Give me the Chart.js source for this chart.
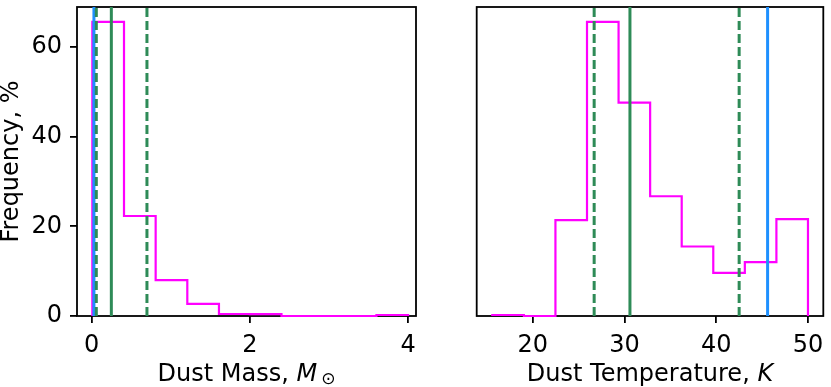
<!DOCTYPE html>
<html>
<head>
<meta charset="utf-8">
<script src="https://cdn.jsdelivr.net/npm/chart.js@4.4.1/dist/chart.umd.min.js"></script>
<style>
  html, body { margin: 0; padding: 0; background: #fff; }
  #wrap { position: relative; width: 831px; height: 387px; }
  .panel { position: absolute; top: 0; height: 387px; }
  #left { left: 0; width: 420px; }
  #right { left: 420px; width: 411px; }
</style>
</head>
<body>
<div id="wrap">
  <div class="panel" id="left"><canvas id="massChart"></canvas></div>
  <div class="panel" id="right"><canvas id="tempChart"></canvas></div>
</div>
<script>
// ================= DATA =================
const massEdges = [0.01, 0.41, 0.81, 1.21, 1.61, 2.0, 2.4, 2.8, 3.2, 3.6, 4.0];
const massFreq = [65.6, 22.3, 8.0, 2.7, 0.45, 0.4, 0, 0, 0, 0.22];
const massTicks = [0, 2, 4];
const massBest = 0.03;            // blue line
const massMedian = 0.25;          // green solid
const massBounds = [0.06, 0.7];   // green dashed

const tempEdges = [15.6, 19.04, 22.48, 25.92, 29.36, 32.8, 36.24, 39.68, 43.12, 46.56, 50.0];
const tempFreq = [0.22, 0, 21.4, 65.6, 47.6, 26.7, 15.5, 9.6, 12.0, 21.6];
const tempTicks = [20, 30, 40, 50];
const tempBest = 45.6;
const tempMedian = 30.6;
const tempBounds = [26.7, 42.5];

const freqTicks = [0, 20, 40, 60];
const freqMax = 68.9;

// ================= STYLE =================
const PINK = "#ff00ff";
const GREEN = "#2e8b57";
const BLUE = "#1e90ff";
const FONT = "'DejaVu Sans', sans-serif";
const FONT_SIZE = 24;

Chart.defaults.font.family = FONT;
Chart.defaults.font.size = FONT_SIZE;
Chart.defaults.color = "#000";

// ================= HELPERS =================
function stepPoints(edges, freq) {
  const pts = [{ x: edges[0], y: 0 }];
  freq.forEach((f, i) => pts.push({ x: edges[i], y: f }));
  pts.push({ x: edges[edges.length - 1], y: 0 });
  return pts;
}

function vline(x, color, dashed) {
  return {
    data: [{ x: x, y: 0 }, { x: x, y: freqMax }],
    borderColor: color,
    borderWidth: 3,
    borderDash: dashed ? [9, 4] : [],
    pointRadius: 0,
    clip: false,
    order: 1,
  };
}

function histDataset(edges, freq) {
  return {
    data: stepPoints(edges, freq),
    borderColor: PINK,
    borderWidth: 2.2,
    stepped: true,
    pointRadius: 0,
    clip: false,
    order: 10,
  };
}

const tickGrid = {
  drawOnChartArea: false,
  drawTicks: true,
  tickLength: 7,
  tickWidth: 1.8,
  tickColor: "#000",
  lineWidth: 1.8,
  color: "#000",
};

function noPadding(scale) {
  scale.paddingTop = 0;
  scale.paddingBottom = 0;
  scale.paddingLeft = 0;
  scale.paddingRight = 0;
}

const framePlugin = {
  id: "frame",
  beforeDatasetsDraw(chart) {
    const { ctx, chartArea: a } = chart;
    ctx.save();
    ctx.strokeStyle = "#000";
    ctx.lineWidth = 1.8;
    ctx.strokeRect(a.left, a.top, a.right - a.left, a.bottom - a.top);
    ctx.restore();
  },
};

function titlePlugin(xParts, yText) {
  return {
    id: "axisTitles",
    afterDraw(chart) {
      const { ctx, chartArea: a } = chart;
      ctx.save();
      ctx.fillStyle = "#000";
      ctx.textBaseline = "alphabetic";
      ctx.textAlign = "left";

      let total = 0;
      xParts.forEach((p) => {
        ctx.font = p.font;
        total += ctx.measureText(p.text).width + (p.gap || 0);
      });
      let x = (a.left + a.right) / 2 - total / 2;
      xParts.forEach((p) => {
        ctx.font = p.font;
        x += p.gap || 0;
        ctx.fillText(p.text, x, 381 + (p.dy || 0));
        x += ctx.measureText(p.text).width;
      });

      if (yText) {
        ctx.translate(18, (a.top + a.bottom) / 2);
        ctx.rotate(-Math.PI / 2);
        ctx.textAlign = "center";
        ctx.font = `${FONT_SIZE}px ${FONT}`;
        ctx.fillText(yText, 0, 0);
      }
      ctx.restore();
    },
  };
}

function makeChart(id, opts) {
  return new Chart(document.getElementById(id), {
    type: "line",
    data: {
      datasets: [
        histDataset(opts.edges, opts.freq),
        vline(opts.bounds[0], GREEN, true),
        vline(opts.bounds[1], GREEN, true),
        vline(opts.median, GREEN, false),
        vline(opts.best, BLUE, false),
      ],
    },
    options: {
      responsive: true,
      maintainAspectRatio: false,
      animation: false,
      layout: { padding: opts.padding },
      plugins: { legend: { display: false }, tooltip: { enabled: false } },
      scales: {
        x: {
          type: "linear",
          min: opts.xMin,
          max: opts.xMax,
          grid: tickGrid,
          border: { display: false },
          ticks: { autoSkip: false, maxRotation: 0, padding: 8 },
          afterBuildTicks: (axis) => {
            axis.ticks = opts.xTicks.map((v) => ({ value: v }));
          },
          afterFit: (scale) => {
            scale.height = 71;
            noPadding(scale);
          },
        },
        y: {
          type: "linear",
          display: opts.showY,
          min: 0,
          max: freqMax,
          grid: tickGrid,
          border: { display: false },
          ticks: { padding: 8 },
          afterBuildTicks: (axis) => {
            axis.ticks = freqTicks.map((v) => ({ value: v }));
          },
          afterFit: (scale) => {
            scale.width = opts.yWidth;
            noPadding(scale);
          },
        },
      },
    },
    plugins: [framePlugin, titlePlugin(opts.xTitle, opts.yTitle)],
  });
}

// ================= CHARTS =================
makeChart("massChart", {
  edges: massEdges,
  freq: massFreq,
  best: massBest,
  median: massMedian,
  bounds: massBounds,
  xMin: -0.184,
  xMax: 4.1,
  xTicks: massTicks,
  showY: true,
  yWidth: 77,
  padding: { top: 7, right: 4, left: 0, bottom: 0 },
  xTitle: [
    { text: "Dust Mass, ", font: `${FONT_SIZE}px ${FONT}` },
    { text: "M", font: `italic ${FONT_SIZE}px ${FONT}` },
    { text: "\u2299", font: `17px ${FONT}`, dy: 3, gap: 4 },
  ],
  yTitle: "Frequency, %",
});

makeChart("tempChart", {
  edges: tempEdges,
  freq: tempFreq,
  best: tempBest,
  median: tempMedian,
  bounds: tempBounds,
  xMin: 13.9,
  xMax: 51.67,
  xTicks: tempTicks,
  showY: false,
  yWidth: 56.7,
  padding: { top: 7, right: 7.7, left: 0, bottom: 0 },
  xTitle: [
    { text: "Dust Temperature, ", font: `${FONT_SIZE}px ${FONT}` },
    { text: "K", font: `italic ${FONT_SIZE}px ${FONT}` },
  ],
  yTitle: null,
});
</script>
</body>
</html>
